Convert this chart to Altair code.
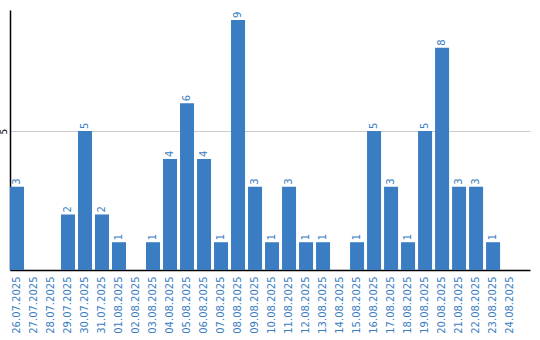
import altair as alt
import pandas as pd

dates = ["26.07.2025", "27.07.2025", "28.07.2025", "29.07.2025", "30.07.2025",
         "31.07.2025", "01.08.2025", "02.08.2025", "03.08.2025", "04.08.2025",
         "05.08.2025", "06.08.2025", "07.08.2025", "08.08.2025", "09.08.2025",
         "10.08.2025", "11.08.2025", "12.08.2025", "13.08.2025", "14.08.2025",
         "15.08.2025", "16.08.2025", "17.08.2025", "18.08.2025", "19.08.2025",
         "20.08.2025", "21.08.2025", "22.08.2025", "23.08.2025", "24.08.2025"]
counts = [3, 0, 0, 2, 5, 2, 1, 0, 1, 4, 6, 4, 1, 9, 3, 1, 3, 1, 1, 0,
          1, 5, 3, 1, 5, 8, 3, 3, 1, 0]

df = pd.DataFrame({"date": dates, "count": counts})

BLUE = "#3a7dc2"
FONT = "DejaVu Sans"

x = alt.X("date:N", sort=None, title=None,
          scale=alt.Scale(paddingInner=0.176, paddingOuter=0.38, align=0),
          axis=alt.Axis(labelAngle=270, labelColor=BLUE, labelFont=FONT,
                        labelFontSize=10, ticks=False, labelPadding=6,
                        domainColor="black", domainWidth=1.5, grid=False))
y = alt.Y("count:Q", title=None,
          scale=alt.Scale(domain=[0, 9.36], nice=False),
          axis=alt.Axis(values=[5], labelAngle=270, labelColor="black",
                        labelFont=FONT, labelFontSize=9, ticks=False,
                        labelPadding=2, domainColor="black", domainWidth=1.5,
                        grid=True, gridColor="#cccccc", gridWidth=1))

bars = alt.Chart(df).mark_bar(color=BLUE).encode(x=x, y=y)

labels = alt.Chart(df).transform_filter("datum.count > 0").mark_text(
    angle=270, align="left", baseline="middle", dx=2, color=BLUE,
    font=FONT, fontSize=10
).encode(x=alt.X("date:N", sort=None), y="count:Q", text="count:Q")

chart = (bars + labels).properties(
    width=520, height=260,
    background="white",
    autosize=alt.AutoSizeParams(type="none"),
    padding={"left": 10, "top": 10, "right": 10, "bottom": 70},
).configure_view(strokeWidth=0)

chart.save("out.html", embed_options={"renderer": "svg", "actions": False})
